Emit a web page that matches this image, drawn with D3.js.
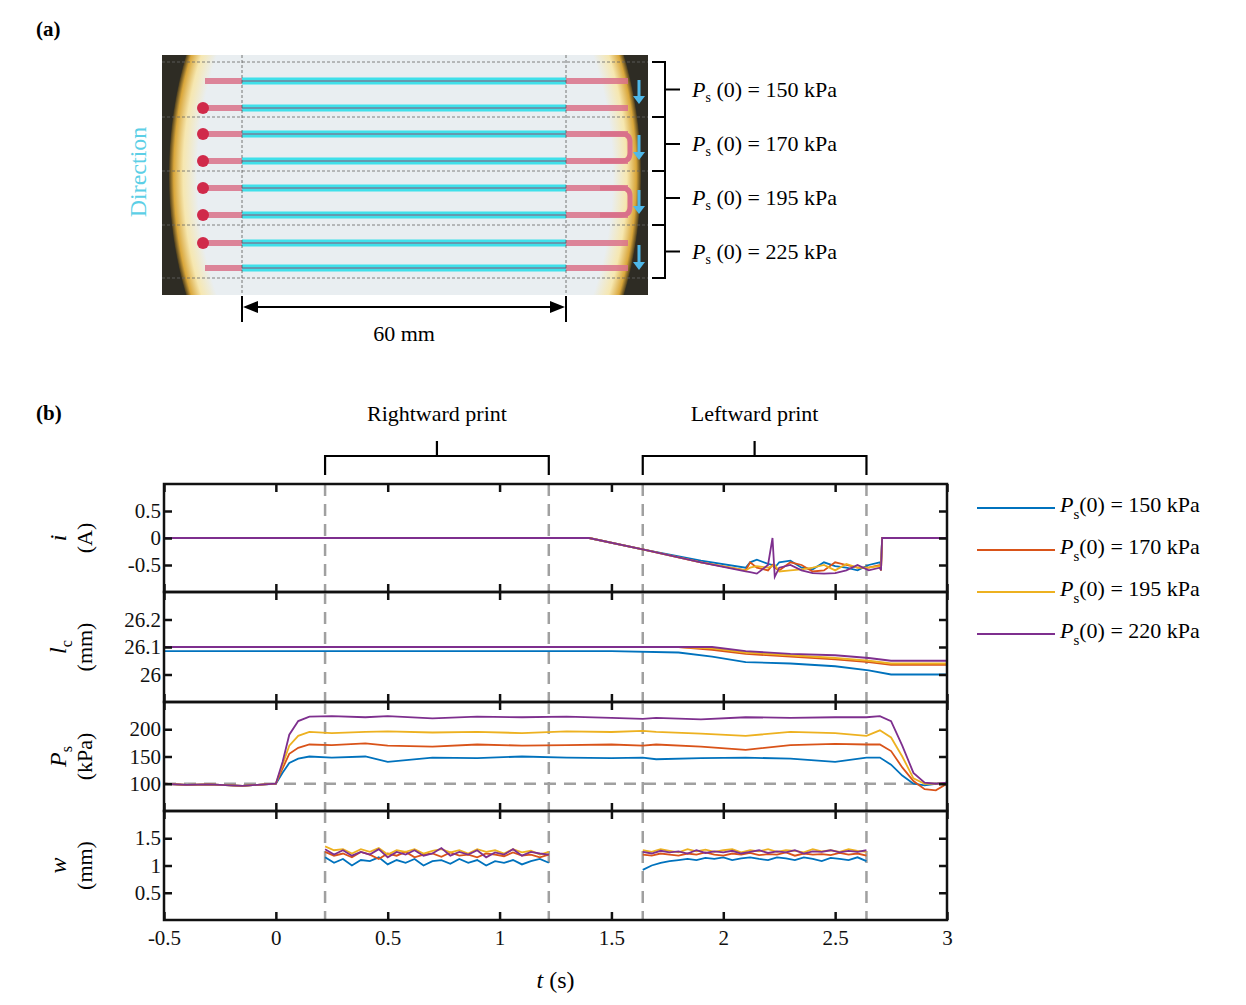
<!DOCTYPE html>
<html><head><meta charset="utf-8">
<script src="https://cdn.jsdelivr.net/npm/d3@7"></script>
<style>body{margin:0;background:#fff}svg{font-family:"Liberation Serif",serif}</style>
</head><body><svg id="c" width="1246" height="1005"></svg>
<script>
// ---- data (b) ----
const seriesNames = ['150', '170', '195', '220']
const colors = ['#0072BD', '#D95319', '#EDB120', '#7E2F8E']

const iT = [-0.5, 1.4, 1.65, 1.9, 2.1, 2.12, 2.15, 2.2, 2.22, 2.23, 2.25, 2.3, 2.35, 2.4, 2.45, 2.5, 2.55, 2.6, 2.65, 2.7, 2.705, 2.71, 3]
const iBlue = [0, 0, -0.22, -0.42, -0.55, -0.45, -0.4, -0.48, -0.5, -0.55, -0.45, -0.42, -0.55, -0.58, -0.45, -0.52, -0.55, -0.6, -0.5, -0.45, -0.5, 0, 0]
const iRed = [0, 0, -0.22, -0.45, -0.6, -0.45, -0.55, -0.6, -0.5, -0.55, -0.6, -0.45, -0.5, -0.62, -0.6, -0.45, -0.5, -0.55, -0.55, -0.5, -0.6, 0, 0]
const iYellow = [0, 0, -0.22, -0.45, -0.6, -0.55, -0.52, -0.55, -0.52, -0.5, -0.62, -0.6, -0.58, -0.55, -0.5, -0.6, -0.48, -0.55, -0.55, -0.52, -0.6, 0, 0]
const iPurple = [0, 0, -0.22, -0.45, -0.62, -0.63, -0.66, -0.5, 0, -0.72, -0.55, -0.5, -0.6, -0.65, -0.66, -0.65, -0.6, -0.5, -0.6, -0.55, -0.6, 0, 0]

const lcT = [-0.5, 1.5, 1.8, 1.95, 2.1, 2.3, 2.5, 2.65, 2.75, 3]
const lcBlue = [26.085, 26.085, 26.08, 26.065, 26.045, 26.04, 26.03, 26.015, 26.0, 26.0]
const lcRed = [26.1, 26.1, 26.1, 26.09, 26.075, 26.065, 26.055, 26.045, 26.035, 26.035]
const lcYellow = [26.1, 26.1, 26.1, 26.095, 26.08, 26.07, 26.06, 26.05, 26.04, 26.04]
const lcPurple = [26.1, 26.1, 26.1, 26.1, 26.085, 26.075, 26.07, 26.06, 26.05, 26.05]

const psT = [-0.5, -0.4, -0.3, -0.15, -0.05, 0, 0.03, 0.06, 0.1, 0.15, 0.25, 0.4, 0.5, 0.7, 0.9, 1.1, 1.3, 1.5, 1.64, 1.7, 1.9, 2.1, 2.3, 2.5, 2.64, 2.7, 2.75, 2.8, 2.85, 2.9, 2.95, 3.0]
const psBlue = [100, 98, 99, 96, 99, 100, 120, 138, 146, 150, 148, 150, 140, 148, 147, 150, 148, 147, 148, 145, 147, 148, 146, 140, 148, 148, 135, 115, 100, 97, 100, 102]
const psRed = [100, 98, 99, 96, 99, 100, 128, 155, 166, 172, 171, 174, 170, 168, 172, 170, 171, 172, 170, 172, 168, 162, 171, 173, 172, 172, 160, 130, 105, 90, 88, 100]
const psYellow = [100, 98, 99, 96, 99, 100, 135, 170, 188, 195, 193, 195, 196, 194, 195, 193, 196, 195, 197, 195, 192, 188, 195, 193, 188, 198, 185, 150, 110, 100, 100, 102]
const psPurple = [100, 98, 99, 96, 99, 100, 140, 190, 215, 223, 224, 222, 224, 220, 223, 222, 223, 221, 219, 221, 218, 222, 221, 222, 222, 224, 215, 170, 120, 102, 100, 102]

const wBlue1 = [1.15, 1.05, 1.12, 1.0, 1.1, 1.08, 1.15, 1.02, 1.1, 1.05, 1.12, 1.0, 1.08, 1.1, 1.03, 1.12, 1.05, 1.1, 1.0, 1.08, 1.05, 1.1, 1.02, 1.08, 1.12, 1.05]
const wRed1 = [1.25, 1.18, 1.22, 1.15, 1.25, 1.2, 1.12, 1.22, 1.18, 1.25, 1.15, 1.2, 1.22, 1.16, 1.24, 1.18, 1.2, 1.15, 1.22, 1.2, 1.17, 1.24, 1.18, 1.2, 1.15, 1.2]
const wYellow1 = [1.35, 1.28, 1.3, 1.22, 1.3, 1.25, 1.32, 1.2, 1.28, 1.25, 1.3, 1.22, 1.27, 1.3, 1.24, 1.28, 1.22, 1.3, 1.25, 1.28, 1.22, 1.3, 1.24, 1.27, 1.2, 1.25]
const wPurple1 = [1.3, 1.2, 1.28, 1.18, 1.25, 1.2, 1.3, 1.15, 1.25, 1.2, 1.28, 1.18, 1.22, 1.32, 1.18, 1.25, 1.2, 1.28, 1.15, 1.24, 1.2, 1.3, 1.18, 1.25, 1.22, 1.2]
const wBlue2 = [0.92, 1.0, 1.05, 1.08, 1.1, 1.12, 1.1, 1.14, 1.12, 1.15, 1.1, 1.13, 1.15, 1.12, 1.1, 1.15, 1.13, 1.1, 1.15, 1.12, 1.08, 1.14, 1.12, 1.1, 1.15, 1.08]
const wRed2 = [1.2, 1.18, 1.22, 1.2, 1.18, 1.22, 1.2, 1.24, 1.2, 1.18, 1.22, 1.2, 1.23, 1.19, 1.21, 1.2, 1.24, 1.18, 1.22, 1.2, 1.21, 1.19, 1.23, 1.2, 1.22, 1.18]
const wYellow2 = [1.28, 1.25, 1.3, 1.27, 1.24, 1.3, 1.26, 1.29, 1.25, 1.28, 1.3, 1.24, 1.28, 1.26, 1.3, 1.25, 1.28, 1.27, 1.24, 1.3, 1.26, 1.28, 1.25, 1.3, 1.27, 1.25]
const wPurple2 = [1.25, 1.22, 1.27, 1.24, 1.26, 1.22, 1.28, 1.23, 1.26, 1.24, 1.27, 1.22, 1.25, 1.28, 1.23, 1.26, 1.24, 1.28, 1.22, 1.26, 1.25, 1.28, 1.24, 1.27, 1.25, 1.28]
const printBounds = [0.22, 1.22, 1.64, 2.64]
const xTicks = [-0.5, 0, 0.5, 1, 1.5, 2, 2.5, 3]

// ---- data (a) ----
const pressures = ['150', '170', '195', '225']
const rowY = [81, 108, 134, 161, 188, 215, 243, 268]

const svg = d3.select('#c')
const serif = '"Liberation Serif", serif'

// ================= (a) =================
svg.append('text').attr('x', 36).attr('y', 36).attr('font-size', 21).attr('font-weight', 'bold').text('(a)')
const ph = { x0: 162, x1: 648, y0: 55, y1: 295 }
svg.append('clipPath').attr('id', 'ph').append('rect')
  .attr('x', ph.x0).attr('y', ph.y0).attr('width', ph.x1 - ph.x0).attr('height', ph.y1 - ph.y0)
const pa = svg.append('g').attr('clip-path', 'url(#ph)')
pa.append('rect').attr('x', ph.x0).attr('y', ph.y0).attr('width', ph.x1 - ph.x0).attr('height', ph.y1 - ph.y0).attr('fill', '#2e2c24')
const grad = svg.append('defs').append('radialGradient').attr('id', 'rim')
grad.append('stop').attr('offset', '0.88').attr('stop-color', '#e9eef1')
grad.append('stop').attr('offset', '0.94').attr('stop-color', '#f6e7b0')
grad.append('stop').attr('offset', '0.98').attr('stop-color', '#d9a63a')
grad.append('stop').attr('offset', '1').attr('stop-color', '#4a3c1c')
pa.append('ellipse').attr('cx', 405).attr('cy', 175).attr('rx', 236).attr('ry', 320).attr('fill', 'url(#rim)')
pa.append('rect').attr('x', 220).attr('y', ph.y0).attr('width', 370).attr('height', ph.y1 - ph.y0).attr('fill', '#e9eef1')

rowY.forEach((y, k) => {
  const start = (k === 0 || k === 7) ? 205 : 200
  pa.append('line').attr('x1', start).attr('x2', 628).attr('y1', y).attr('y2', y)
    .attr('stroke', '#d9718a').attr('stroke-width', 6).attr('stroke-opacity', 0.85)
  if (k > 0 && k < 7) pa.append('circle').attr('cx', 203).attr('cy', y).attr('r', 6).attr('fill', '#d02a4a')
  pa.append('line').attr('x1', 242).attr('x2', 566).attr('y1', y).attr('y2', y)
    .attr('stroke', '#3fe0ea').attr('stroke-width', 7)
  pa.append('line').attr('x1', 242).attr('x2', 566).attr('y1', y).attr('y2', y)
    .attr('stroke', '#8a5a7a').attr('stroke-width', 1.6).attr('stroke-opacity', 0.7)
})
;[[2, 3], [4, 5]].forEach(([a, b]) => {
  pa.append('path').attr('d', `M600,${rowY[a]} H622 Q630,${rowY[a]} 630,${rowY[a] + 8} V${rowY[b] - 8} Q630,${rowY[b]} 622,${rowY[b]} H600`)
    .attr('fill', 'none').attr('stroke', '#d9718a').attr('stroke-width', 5)
})
;[62, 117, 171, 225, 278].forEach(y => {
  pa.append('line').attr('x1', ph.x0).attr('x2', ph.x1).attr('y1', y).attr('y2', y)
    .attr('stroke', '#666').attr('stroke-width', 0.8).attr('stroke-dasharray', '3,2')
})
;[242, 566].forEach(x => {
  pa.append('line').attr('x1', x).attr('x2', x).attr('y1', ph.y0).attr('y2', ph.y1)
    .attr('stroke', '#555').attr('stroke-width', 0.8).attr('stroke-dasharray', '3,2')
})
;[[80, 104], [135, 160], [190, 214], [245, 270]].forEach(([a, b]) => {
  pa.append('line').attr('x1', 639).attr('x2', 639).attr('y1', a).attr('y2', b - 6).attr('stroke', '#4fb8e8').attr('stroke-width', 3)
  pa.append('path').attr('d', `M633,${b - 8} L645,${b - 8} L639,${b} Z`).attr('fill', '#4fb8e8')
})
svg.append('text').attr('transform', 'translate(146,172) rotate(-90)').attr('text-anchor', 'middle')
  .attr('font-size', 24).attr('fill', '#5ccfe6').text('Direction')

// right brackets
const bk = [62, 117, 171, 225, 278]
svg.append('line').attr('x1', 665).attr('x2', 665).attr('y1', bk[0]).attr('y2', bk[4]).attr('stroke', '#000').attr('stroke-width', 2)
bk.forEach(y => svg.append('line').attr('x1', 652).attr('x2', 666).attr('y1', y).attr('y2', y).attr('stroke', '#000').attr('stroke-width', 2))
pressures.forEach((p, k) => {
  const ym = (bk[k] + bk[k + 1]) / 2
  svg.append('line').attr('x1', 665).attr('x2', 680).attr('y1', ym).attr('y2', ym).attr('stroke', '#000').attr('stroke-width', 2)
  const t = svg.append('text').attr('x', 692).attr('y', ym + 7).attr('font-size', 22)
  t.append('tspan').attr('font-style', 'italic').text('P')
  t.append('tspan').attr('font-size', 14).attr('dy', 5).text('s')
  t.append('tspan').attr('dy', -5).text(` (0) = ${p} kPa`)
})
// dimension
svg.append('line').attr('x1', 242).attr('x2', 242).attr('y1', 296).attr('y2', 322).attr('stroke', '#000').attr('stroke-width', 2)
svg.append('line').attr('x1', 566).attr('x2', 566).attr('y1', 296).attr('y2', 322).attr('stroke', '#000').attr('stroke-width', 2)
svg.append('line').attr('x1', 252).attr('x2', 556).attr('y1', 307).attr('y2', 307).attr('stroke', '#000').attr('stroke-width', 2)
svg.append('path').attr('d', 'M243,307 L258,301 L258,313 Z M565,307 L550,301 L550,313 Z').attr('fill', '#000')
svg.append('text').attr('x', 404).attr('y', 341).attr('text-anchor', 'middle').attr('font-size', 22).text('60 mm')

// ================= (b) =================
svg.append('text').attr('x', 36).attr('y', 420).attr('font-size', 21).attr('font-weight', 'bold').text('(b)')
const x = d3.scaleLinear().domain([-0.5, 3]).range([164, 947])
const panels = [
  { top: 484, bot: 592, dom: [-1, 1], ticks: [-0.5, 0, 0.5], lab: ['i', '(A)'],
    t: iT, ys: [iBlue, iRed, iYellow, iPurple] },
  { top: 592, bot: 702, dom: [25.9, 26.3], ticks: [26, 26.1, 26.2], lab: ['l', '(mm)', 'c'],
    t: lcT, ys: [lcBlue, lcRed, lcYellow, lcPurple] },
  { top: 702, bot: 811, dom: [50, 250], ticks: [100, 150, 200], lab: ['P', '(kPa)', 's'],
    t: psT, ys: [psBlue, psRed, psYellow, psPurple] },
  { top: 811, bot: 920, dom: [0, 2], ticks: [0.5, 1, 1.5], lab: ['w', '(mm)'] }
]
const wT1 = d3.range(26).map(k => 0.22 + k * 0.04)
const wT2 = d3.range(26).map(k => 1.64 + k * 0.04)
panels[3].segs = [[wT1, [wBlue1, wRed1, wYellow1, wPurple1]], [wT2, [wBlue2, wRed2, wYellow2, wPurple2]]]

panels.forEach((p, pi) => {
  const y = d3.scaleLinear().domain(p.dom).range([p.bot, p.top])
  const g = svg.append('g')
  if (pi === 2) {
    g.append('line').attr('x1', x(-0.5)).attr('x2', x(3)).attr('y1', y(100)).attr('y2', y(100))
      .attr('stroke', '#a0a0a0').attr('stroke-width', 2.5).attr('stroke-dasharray', '12,8')
  }
  printBounds.forEach(b => g.append('line').attr('x1', x(b)).attr('x2', x(b)).attr('y1', p.top).attr('y2', p.bot)
    .attr('stroke', '#a0a0a0').attr('stroke-width', 2.5).attr('stroke-dasharray', '12,8'))
  const line = d3.line().x(d => x(d[0])).y(d => y(d[1]))
  const segs = p.segs || [[p.t, p.ys]]
  segs.forEach(([tt, ys]) => {
    ys.forEach((vals, si) => {
      g.append('path').attr('d', line(tt.map((t, k) => [t, vals[k]])))
        .attr('fill', 'none').attr('stroke', colors[si]).attr('stroke-width', 1.8)
    })
  })
  g.append('rect').attr('x', x(-0.5)).attr('y', p.top).attr('width', x(3) - x(-0.5)).attr('height', p.bot - p.top)
    .attr('fill', 'none').attr('stroke', '#111').attr('stroke-width', 2.5)
  g.append('g').attr('class', pi === 3 ? 'xb' : '').attr('transform', `translate(0,${p.bot})`)
    .call(d3.axisBottom(x).tickValues(xTicks).tickSize(-8).tickFormat(pi === 3 ? d => d : ''))
  g.append('g').attr('transform', `translate(0,${p.top})`).call(d3.axisTop(x).tickValues(xTicks).tickSize(-8).tickFormat(''))
  g.append('g').attr('transform', `translate(${x(-0.5)},0)`).call(d3.axisLeft(y).tickValues(p.ticks).tickSize(-8).tickFormat(d => d))
  g.append('g').attr('transform', `translate(${x(3)},0)`).call(d3.axisRight(y).tickValues(p.ticks).tickSize(-8).tickFormat(''))
  g.selectAll('.domain').remove()
  g.selectAll('.tick line').attr('stroke', '#111').attr('stroke-width', 2.5)
  g.selectAll('.tick text').attr('font-family', serif).attr('font-size', 21).attr('fill', '#111')
  const cy = (p.top + p.bot) / 2
  const l1 = g.append('text').attr('transform', `translate(66,${cy}) rotate(-90)`).attr('text-anchor', 'middle')
    .attr('font-size', 24).attr('font-family', serif)
  l1.append('tspan').attr('font-style', 'italic').text(p.lab[0])
  if (p.lab[2]) l1.append('tspan').attr('font-size', 16).attr('dy', 6).text(p.lab[2])
  g.append('text').attr('transform', `translate(92,${cy}) rotate(-90)`).attr('text-anchor', 'middle')
    .attr('font-size', 22).attr('font-family', serif).text(p.lab[1])
})
svg.selectAll('.xb .tick text').attr('dy', '1.05em')
const xl = svg.append('text').attr('x', x(1.25)).attr('y', 988).attr('text-anchor', 'middle').attr('font-size', 24)
xl.append('tspan').attr('font-style', 'italic').text('t')
xl.append('tspan').text(' (s)')

// print brackets
;[['Rightward print', 0.22, 1.22], ['Leftward print', 1.64, 2.64]].forEach(([lab, a, b]) => {
  svg.append('path').attr('d', `M${x(a)},475 V456 H${x(b)} V475 M${(x(a) + x(b)) / 2},456 V441`)
    .attr('fill', 'none').attr('stroke', '#000').attr('stroke-width', 2.2)
  svg.append('text').attr('x', (x(a) + x(b)) / 2).attr('y', 421).attr('text-anchor', 'middle').attr('font-size', 22).text(lab)
})

// legend
seriesNames.forEach((n, k) => {
  const ly = 505 + k * 42
  svg.append('line').attr('x1', 977).attr('x2', 1055).attr('y1', ly + 3).attr('y2', ly + 3).attr('stroke', colors[k]).attr('stroke-width', 2.2)
  const t = svg.append('text').attr('x', 1060).attr('y', ly + 7).attr('font-size', 22)
  t.append('tspan').attr('font-style', 'italic').text('P')
  t.append('tspan').attr('font-size', 15).attr('dy', 7).text('s')
  t.append('tspan').attr('dy', -7).text(`(0) = ${n} kPa`)
})
</script></body></html>
